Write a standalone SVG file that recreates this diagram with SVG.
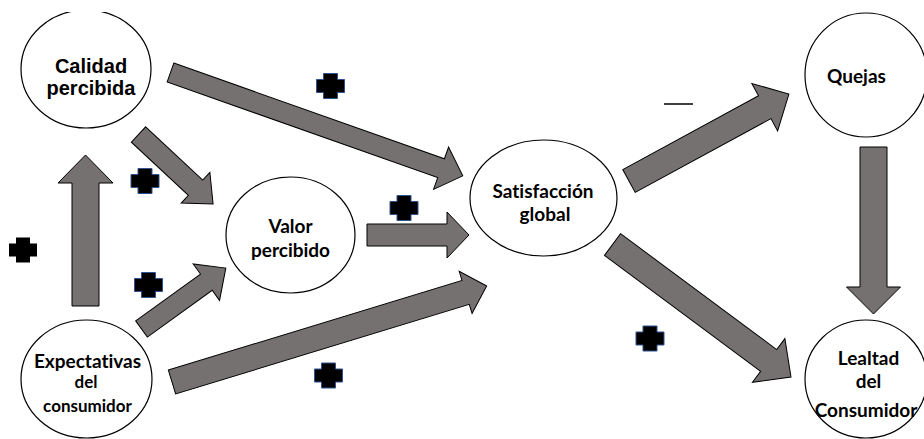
<svg xmlns="http://www.w3.org/2000/svg" width="924" height="439" viewBox="0 0 924 439">
<style>
.node{fill:#fff;stroke:#000;stroke-width:1.2}
.arr{fill:#767171;stroke:#000;stroke-width:1}
.t{font-family:Lato,"Open Sans",sans-serif;font-weight:bold;font-size:19px;fill:#000;text-anchor:middle;font-variant-ligatures:none}
.ta{font-family:"Liberation Sans",Arial,sans-serif;font-weight:bold;font-size:20px;fill:#000;text-anchor:middle}
.plus{fill:#000;stroke:#2f528f;stroke-width:1}
</style>
<defs>
<clipPath id="topclip"><rect x="0" y="12" width="924" height="427"/></clipPath>
<path id="cross" d="M-7,-12.5 H7 V-6.5 H14 V6.5 H7 V12.5 H-7 V6.5 H-14 V-6.5 H-7 Z"/>
</defs>
<g id="connectors">
<polygon class="arr" transform="translate(170.5,72.5) rotate(19.48)" points="0,-10 287,-10 287,-22.5 310,0 287,22.5 287,10 0,10"/>
<polygon class="arr" transform="translate(138.5,134.5) rotate(43)" points="0,-10.5 78,-10.5 78,-21 102,0 78,21 78,10.5 0,10.5"/>
<polygon class="arr" transform="translate(85.5,306) rotate(-90)" points="0,-13.5 123,-13.5 123,-27.5 151,0 123,27.5 123,13.5 0,13.5"/>
<polygon class="arr" transform="translate(141.5,329) rotate(-35.83)" points="0,-10 80,-10 80,-22.5 104,0 80,22.5 80,10 0,10"/>
<polygon class="arr" transform="translate(172,382) rotate(-16.97)" points="0,-12.5 307,-12.5 307,-22 329,0 307,22 307,12.5 0,12.5"/>
<polygon class="arr" transform="translate(367,235)" points="0,-11 80,-11 80,-23 102,0 80,23 80,11 0,11"/>
<polygon class="arr" transform="translate(629,181) rotate(-28.53)" points="0,-13 154.5,-13 154.5,-27 182,0 154.5,27 154.5,13 0,13"/>
<polygon class="arr" transform="translate(873.5,147) rotate(90)" points="0,-13.5 140,-13.5 140,-27 167,0 140,27 140,13.5 0,13.5"/>
<polygon class="arr" transform="translate(612.5,244.5) rotate(36.59)" points="0,-13.5 194.5,-13.5 194.5,-27.2 222.3,0 194.5,27.2 194.5,13.5 0,13.5"/>
</g>
<g id="signs">
<use href="#cross" class="plus" x="330.5" y="86"/>
<use href="#cross" class="plus" x="145" y="181"/>
<use href="#cross" fill="#000" x="23" y="250"/>
<use href="#cross" class="plus" x="148.5" y="285"/>
<use href="#cross" class="plus" x="404" y="208"/>
<use href="#cross" class="plus" x="328.5" y="375.5"/>
<use href="#cross" class="plus" x="650" y="338.5"/>
<line x1="664" y1="104" x2="693" y2="104" stroke="#000" stroke-width="1.5"/>
</g>
<g id="calidad">
<ellipse class="node" cx="86" cy="69" rx="65" ry="59" clip-path="url(#topclip)"/>
<text class="ta" x="91" y="73">Calidad</text>
<text class="ta" x="91" y="95">percibida</text>
</g>
<g id="valor">
<ellipse class="node" cx="290.5" cy="235" rx="64.5" ry="58"/>
<text class="t" x="290.5" y="233">Valor</text>
<text class="t" x="290.5" y="257">percibido</text>
</g>
<g id="expectativas">
<ellipse class="node" cx="86.5" cy="379" rx="65.5" ry="59"/>
<text class="t" x="87.5" y="368">Expectativas</text>
<text class="t" x="86" y="388" style="font-size:17px">del</text>
<text class="t" x="87.5" y="412" style="font-size:17px">consumidor</text>
</g>
<g id="satisfaccion">
<ellipse class="node" cx="543.5" cy="198" rx="73.5" ry="58"/>
<text class="t" x="543" y="198">Satisfacción</text>
<text class="t" x="545" y="221">global</text>
</g>
<g id="quejas">
<ellipse class="node" cx="866" cy="75" rx="61" ry="62"/>
<text class="t" x="856.5" y="83">Quejas</text>
</g>
<g id="lealtad">
<ellipse class="node" cx="866" cy="379" rx="61" ry="59"/>
<text class="t" x="868.5" y="365">Lealtad</text>
<text class="t" x="868.5" y="388">del</text>
<text class="t" x="866" y="417">Consumidor</text>
</g>
</svg>
